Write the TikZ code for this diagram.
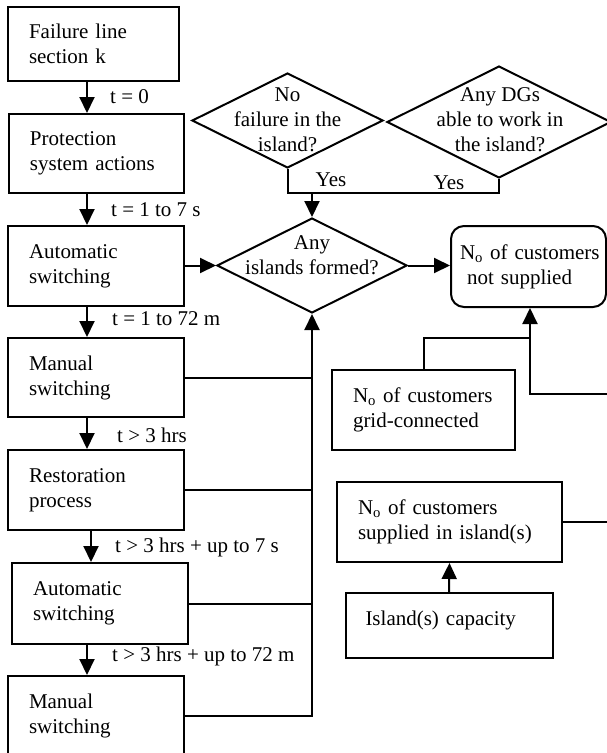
\documentclass[tikz,border=0pt]{standalone}
\usepackage{fontspec}
\setmainfont{Liberation Serif}
\usetikzlibrary{arrows.meta,shapes.geometric}
\begin{document}
\begin{tikzpicture}[x=1pt,y=-1pt,
  every node/.style={font=\fontsize{21}{25}\selectfont},
  line/.style={line width=2pt},
  arr/.style={line width=2pt,-{Triangle[length=16pt,width=15pt]}},
  box/.style={draw,line width=2pt,rectangle,align=left,inner xsep=21pt,inner ysep=0pt,minimum height=80pt},
  dia/.style={draw,line width=2pt,diamond,inner sep=0pt},
  lbl/.style={anchor=west,inner sep=0pt},
  txt/.style={align=center,inner sep=0pt}]
\useasboundingbox (0,0) rectangle (607,753);
\clip (0,0) rectangle (607,753);
% left column
\node[box,text width=129pt,minimum height=74pt] (b1) at (93.5,44) {Failure line\\section k};
\node[box,text width=133pt,minimum height=79pt] (b2) at (96.5,153.5) {Protection\\system actions};
\node[box,text width=134pt] (b3) at (96,266) {Automatic\\switching};
\node[box,text width=134pt,minimum height=79pt] (b4) at (96,377.5) {Manual\\switching};
\node[box,text width=134pt] (b5) at (96,490) {Restoration\\process};
\node[box,text width=134pt,minimum height=81pt] (b6) at (100,603.5) {Automatic\\switching};
\node[box,text width=134pt] (b7) at (96,716) {Manual\\switching};
% time labels
\node[lbl] (l1) at (110,97) {t = 0};
\node[lbl] (l2) at (111,210) {t = 1 to 7 s};
\node[lbl] (l3) at (112,319) {t = 1 to 72 m};
\node[lbl] (l4) at (117,435) {t > 3 hrs};
\node[lbl] (l5) at (115,547) {t > 3 hrs + up to 7 s};
\node[lbl] (l6) at (112,656) {t > 3 hrs + up to 72 m};
% vertical arrows
\draw[arr] ([xshift=80pt]b1.south west) -- ([xshift=80pt]b1.south west |- b2.north);
\draw[arr] ([xshift=79pt]b2.south west) -- ([xshift=79pt]b2.south west |- b3.north);
\draw[arr] ([xshift=80pt]b3.south west) -- ([xshift=80pt]b3.south west |- b4.north);
\draw[arr] ([xshift=80pt]b4.south west) -- ([xshift=80pt]b4.south west |- b5.north);
\draw[arr] ([xshift=84pt]b5.south west) -- ([xshift=84pt]b5.south west |- b6.north);
\draw[arr] ([xshift=76pt]b6.south west) -- ([xshift=76pt]b6.south west |- b7.north);
% diamonds
\node[dia,minimum width=191pt,minimum height=95pt] (d1) at (287.5,120.5) {};
\node[txt] (t1) at (287.5,120) {No\\failure in the\\island?};
\node[dia,minimum width=224pt,minimum height=112pt] (d2) at (499,122) {};
\node[txt] (t2) at (500,120) {Any DGs\\able to work in\\the island?};
\node[dia,minimum width=190pt,minimum height=95pt] (d3) at (312,265.5) {};
\node[txt] (t3) at (312,255.5) {Any\\islands formed?};
\coordinate (yj) at (287.5,193);
\draw[line] (d1.south) -- (yj) -| (d2.south);
\draw[arr] (d3.north |- yj) -- (d3.north);
\node[inner sep=0pt] (y1) at (331,180) {Yes};
\node[inner sep=0pt] (y2) at (449,183) {Yes};
% right side boxes
\node[draw,line width=2pt,rounded corners=13pt,align=left,inner xsep=3pt,inner ysep=0pt,text width=149pt,minimum height=81pt] (ns) at (528.5,266.5) {\hspace*{6pt}N\textsubscript{o} of customers\\\hspace*{13pt}not supplied};
\node[box,text width=141pt] (gc) at (423.5,410) {N\textsubscript{o} of customers\\grid-connected};
\node[box,text width=183pt] (sp) at (449.5,522) {N\textsubscript{o} of customers\\supplied in island(s)};
\node[box,text width=167pt,inner xsep=20pt,minimum height=65pt] (cap) at (449,625.5) {\raisebox{5pt}[\height][\depth]{Island(s) capacity}};
% connectors
\draw[arr] (b3.east |- d3.west) -- (d3.west);
\draw[arr] (d3.east) -- (d3.east -| ns.west);
\draw[arr] (b7.east) -| (d3.south);
\draw[line] (b4.east) -- (b4.east -| d3.south);
\draw[line] (b5.east) -- (b5.east -| d3.south);
\draw[line] (b6.east) -- (b6.east -| d3.south);
\coordinate (j2) at (530,338);
\coordinate (e1) at (612,394);
\draw[line] (gc.north) |- (j2);
\draw[arr] (j2) -- (j2 |- ns.south);
\draw[line] (j2) |- (e1);
\draw[line] (sp.east) -- (sp.east -| e1);
\draw[arr] (cap.north) -- (sp.south);
\end{tikzpicture}
\end{document}
